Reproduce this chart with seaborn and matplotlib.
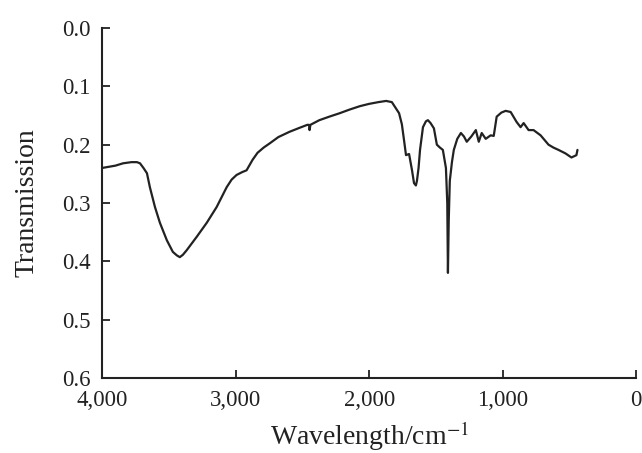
import matplotlib
matplotlib.use("Agg")
import matplotlib.pyplot as plt
import seaborn as sns
import pandas as pd

wavenumber = [4000, 3900, 3843, 3780, 3739, 3716, 3690, 3664, 3642, 3604, 3567, 3515, 3470, 3440,
              3418, 3395, 3366, 3291, 3216, 3142, 3067, 3030, 2993, 2950, 2918, 2873, 2836, 2790,
              2746, 2680, 2597, 2520, 2463, 2450, 2446, 2440, 2415, 2373, 2299, 2220, 2149, 2070,
              2000, 1930, 1873, 1830, 1776, 1755, 1739, 1724, 1701, 1679, 1664, 1650, 1642, 1630,
              1619, 1597, 1575, 1560, 1540, 1515, 1493, 1470, 1448, 1425, 1415, 1410, 1404, 1396,
              1380, 1366, 1340, 1313, 1290, 1269, 1235, 1201, 1179, 1157, 1127, 1090, 1067, 1045,
              1010, 978, 940, 896, 866, 843, 806, 769, 716, 657, 620, 582, 530, 485, 448, 440]
transmission = [0.240, 0.236, 0.232, 0.230, 0.230, 0.232, 0.240, 0.249, 0.273, 0.307, 0.334, 0.364, 0.384, 0.390,
                0.393, 0.389, 0.381, 0.358, 0.334, 0.307, 0.273, 0.260, 0.252, 0.247, 0.244, 0.226, 0.214, 0.205,
                0.198, 0.187, 0.178, 0.171, 0.166, 0.166, 0.175, 0.166, 0.163, 0.158, 0.152, 0.146, 0.140, 0.134,
                0.130, 0.127, 0.125, 0.127, 0.146, 0.165, 0.192, 0.218, 0.216, 0.244, 0.266, 0.270, 0.262, 0.240,
                0.209, 0.170, 0.160, 0.158, 0.163, 0.172, 0.200, 0.205, 0.209, 0.240, 0.300, 0.420, 0.330, 0.262,
                0.230, 0.209, 0.190, 0.180, 0.186, 0.195, 0.186, 0.175, 0.195, 0.180, 0.190, 0.184, 0.185, 0.152,
                0.145, 0.142, 0.144, 0.161, 0.170, 0.163, 0.175, 0.175, 0.184, 0.200, 0.205, 0.209, 0.215, 0.222,
                0.218, 0.209]

xticks = [4000, 3000, 2000, 1000, 0]
xtick_labels = ["4,000", "3,000", "2,000", "1,000", "0"]
yticks = [0.0, 0.1, 0.2, 0.3, 0.4, 0.5, 0.6]
ytick_labels = ["0.0", "0.1", "0.2", "0.3", "0.4", "0.5", "0.6"]

sns.set_style("ticks")
plt.rcParams["font.family"] = ["Liberation Serif", "DejaVu Serif"]
plt.rcParams["mathtext.fontset"] = "stix"

df = pd.DataFrame({"wavenumber": wavenumber, "transmission": transmission})

fig = plt.figure(figsize=(6.42, 4.53), dpi=100)
ax = fig.add_axes([0.159, 0.166, 0.832, 0.772])
sns.lineplot(data=df, x="wavenumber", y="transmission", ax=ax, color="#222222",
             linewidth=1.6, estimator=None, sort=False)

ax.set_xlim(4000, 0)
ax.set_ylim(0.6, 0.0)
ax.set_xticks(xticks)
ax.set_xticklabels(xtick_labels)
ax.set_yticks(yticks)
ax.set_yticklabels(ytick_labels)
ax.tick_params(axis="both", direction="in", length=6, width=1.3, labelsize=16.5, colors="#222222")
ax.tick_params(axis="y", pad=8.5)
ax.tick_params(axis="x", pad=8.5)
for s in ["top", "right"]:
    ax.spines[s].set_visible(False)
for s in ["left", "bottom"]:
    ax.spines[s].set_linewidth(1.5)
    ax.spines[s].set_color("#222222")

ax.set_xlabel("Wavelength/cm$^{-1}$", fontsize=20, color="#222222", labelpad=6)
ax.set_ylabel("Transmission", fontsize=20, color="#222222", labelpad=16)

fig.savefig("out.png", dpi=100)
